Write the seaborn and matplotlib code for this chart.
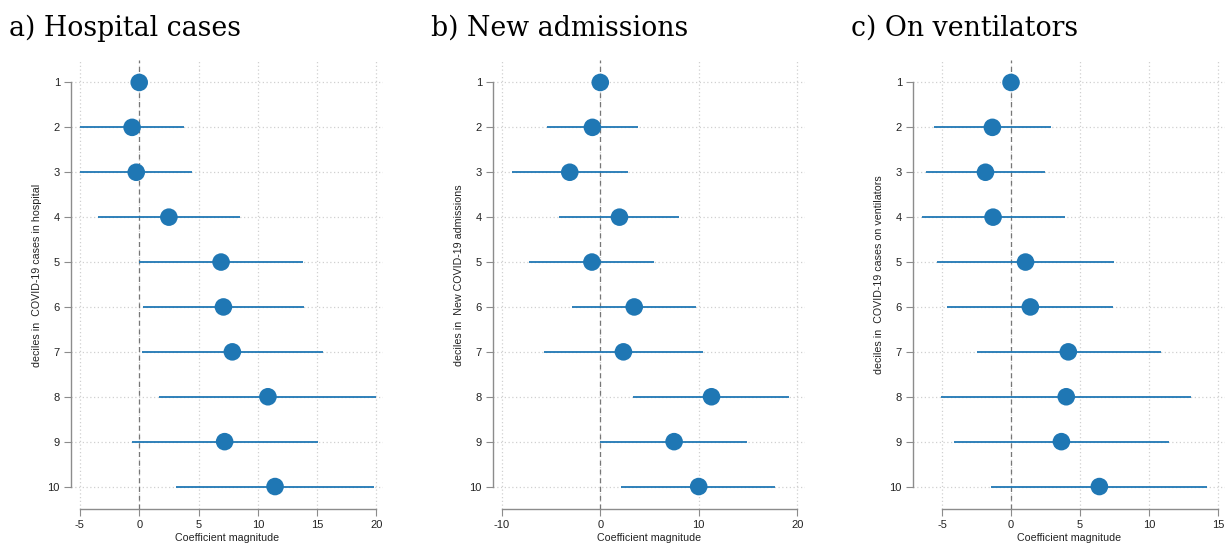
import numpy as np
import pandas as pd
import matplotlib
matplotlib.use("Agg")
import matplotlib.pyplot as plt
import seaborn as sns

deciles = [1, 2, 3, 4, 5, 6, 7, 8, 9, 10]

hosp_coef = [0.0, -0.6, -0.25, 2.5, 6.9, 7.1, 7.85, 10.85, 7.2, 11.45]
hosp_lo = [np.nan, -5.0, -5.0, -3.5, -0.05, 0.3, 0.2, 1.7, -0.65, 3.1]
hosp_hi = [np.nan, 3.8, 4.45, 8.5, 13.8, 13.9, 15.5, 20.0, 15.1, 19.8]

adm_coef = [0.0, -0.8, -3.1, 1.95, -0.85, 3.45, 2.35, 11.3, 7.5, 10.0]
adm_lo = [np.nan, -5.4, -9.0, -4.2, -7.2, -2.85, -5.75, 3.3, 0.0, 2.15]
adm_hi = [np.nan, 3.85, 2.85, 8.0, 5.5, 9.75, 10.45, 19.2, 14.95, 17.8]

vent_coef = [0.0, -1.35, -1.85, -1.3, 1.05, 1.4, 4.15, 4.0, 3.65, 6.4]
vent_lo = [np.nan, -5.6, -6.15, -6.45, -5.35, -4.65, -2.5, -5.05, -4.15, -1.45]
vent_hi = [np.nan, 2.9, 2.45, 3.9, 7.45, 7.4, 10.85, 13.05, 11.45, 14.2]

titles = ["a) Hospital cases", "b) New admissions", "c) On ventilators"]
ylabels = ["deciles in  COVID-19 cases in hospital",
           "deciles in  New COVID-19 admissions",
           "deciles in  COVID-19 cases on ventilators"]
xlabel = "Coefficient magnitude"
xticks_list = [[-5, 0, 5, 10, 15, 20], [-10, 0, 10, 20], [-5, 0, 5, 10, 15]]
xlims = [(-5.75, 20.55), (-10.9, 20.8), (-7.1, 15.5)]

sns.set_theme(style="white")
plt.rcParams['font.family'] = ['Liberation Sans', 'DejaVu Sans']

fig = plt.figure(figsize=(12.3, 5.48), dpi=100)
lefts = [71 / 1230, 493 / 1230, 913 / 1230]
title_x = [9 / 1230, 431 / 1230, 851 / 1230]
w = 312 / 1230
b = 39 / 548
h = 449 / 548

blue = "#1f77b4"
grey = "#8c8c8c"

data = [(hosp_coef, hosp_lo, hosp_hi), (adm_coef, adm_lo, adm_hi), (vent_coef, vent_lo, vent_hi)]

for i, (coef, lo, hi) in enumerate(data):
    ax = fig.add_axes([lefts[i], b, w, h])
    df = pd.DataFrame({"decile": deciles, "coef": coef, "lo": lo, "hi": hi})
    for xt in xticks_list[i]:
        ax.axvline(xt, color="#d0d0d0", lw=0.9, ls=(0, (1, 2)), zorder=0)
    for d in deciles:
        ax.axhline(d, color="#d0d0d0", lw=0.9, ls=(0, (1, 2)), zorder=0)
    ax.axvline(0, color="#777777", lw=0.9, ls=(0, (4, 3)), zorder=1)
    ax.hlines(df["decile"], df["lo"], df["hi"], color=blue, lw=1.3, zorder=2)
    sns.scatterplot(data=df, x="coef", y="decile", ax=ax, s=160, color=blue,
                    edgecolor="none", zorder=3, legend=False)
    ax.set_xlim(*xlims[i])
    ax.set_ylim(10.5, 0.5)
    ax.set_yticks(deciles)
    ax.set_yticklabels([str(d) for d in deciles])
    ax.set_xticks(xticks_list[i])
    ax.set_xticklabels([str(t) for t in xticks_list[i]])
    ax.set_xlabel(xlabel, fontsize=7.7, color="#222222")
    ax.set_ylabel(ylabels[i], fontsize=7.7, color="#222222")
    for s in ["top", "right"]:
        ax.spines[s].set_visible(False)
    ax.spines["left"].set_bounds(1, 10)
    ax.spines["bottom"].set_bounds(xticks_list[i][0], xticks_list[i][-1])
    for s in ["left", "bottom"]:
        ax.spines[s].set_color(grey)
        ax.spines[s].set_linewidth(1.0)
    ax.tick_params(axis="both", which="both", length=5, width=0.8, color=grey,
                   labelsize=8, pad=3, left=True, bottom=True, labelcolor="#222222")
    ax.yaxis.set_label_coords(-29 / 312, (509 - 275) / 449, transform=ax.transAxes)
    ax.xaxis.set_label_coords(0.5, -(533 - 509) / 449, transform=ax.transAxes)
    fig.text(title_x[i], 1 - 36 / 548, titles[i], fontsize=19.3, color="black",
             family=["DejaVu Serif"], va="baseline", ha="left")

fig.savefig("out.png", dpi=100)
